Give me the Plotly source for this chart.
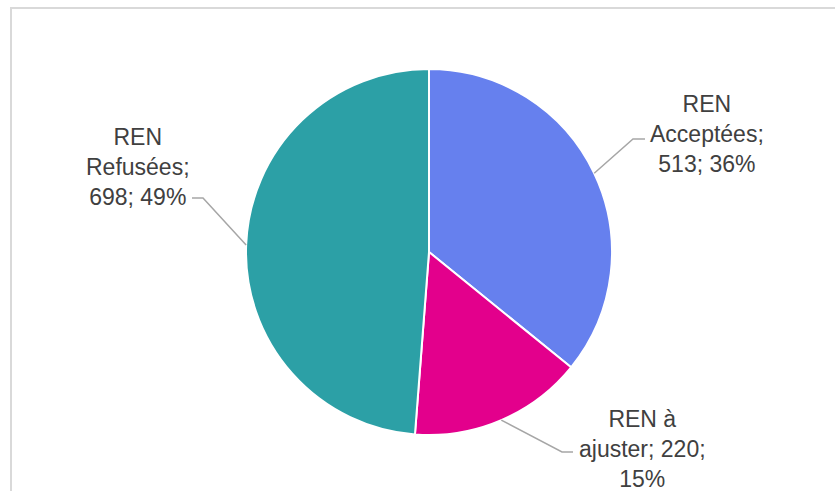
import math
import plotly.graph_objects as go

labels = ["REN Acceptées", "REN à ajuster", "REN Refusées"]
values = [513, 220, 698]
colors = ["#6680EE", "#E3008C", "#2CA0A6"]
label_text = ["REN<br>Acceptées;<br>513; 36%", "REN à<br>ajuster; 220;<br>15%", "REN<br>Refusées;<br>698; 49%"]

W, H = 835, 491
CX, CY, R = 429, 252, 183

def px(x):
    return x / W

def py(y):
    return 1 - y / H

fig = go.Figure(go.Pie(
    labels=labels, values=values, sort=False, direction="clockwise", rotation=0,
    marker=dict(colors=colors, line=dict(color="white", width=2)),
    textinfo="none", hoverinfo="label+value+percent", showlegend=False,
    domain=dict(x=[px(CX - R), px(CX + R)], y=[py(CY + R), py(CY - R)]),
))

# label positions (pixel) and leader elbows
label_pos = [(707, 134), (642, 449), (138, 167)]
elbows = [((633, 139), (645, 139)), ((562, 452), (573, 452)), ((203, 198), (192, 198))]

total = sum(values)
cum = 0
shapes = []
annotations = []
for i, v in enumerate(values):
    mid = (cum + v / 2) / total * 2 * math.pi
    cum += v
    sx = CX + R * math.sin(mid)
    sy = CY - R * math.cos(mid)
    (ex, ey), (fx, fy) = elbows[i]
    path = f"M {px(sx)},{py(sy)} L {px(ex)},{py(ey)} L {px(fx)},{py(fy)}"
    shapes.append(dict(type="path", xref="paper", yref="paper", path=path,
                       line=dict(color="#A6A6A6", width=1.5)))
    lx, ly = label_pos[i]
    annotations.append(dict(x=px(lx), y=py(ly), xref="paper", yref="paper",
                            text=label_text[i], showarrow=False, align="center",
                            xanchor="center", yanchor="middle",
                            font=dict(family="Liberation Sans, Arial, sans-serif", size=23, color="#404040")))

# chart area border (cropped at right and bottom)
shapes.append(dict(type="rect", xref="paper", yref="paper",
                   x0=px(11), x1=1.02, y0=-0.02, y1=py(8),
                   line=dict(color="#D9D9D9", width=2), layer="below"))

fig.update_layout(
    width=W, height=H, margin=dict(l=0, r=0, t=0, b=0),
    paper_bgcolor="white", plot_bgcolor="white",
    shapes=shapes, annotations=annotations,
)
fig.write_html("out.html", config={"displayModeBar": False},
               post_script="document.body.style.margin='0';document.body.style.overflow='hidden';")
